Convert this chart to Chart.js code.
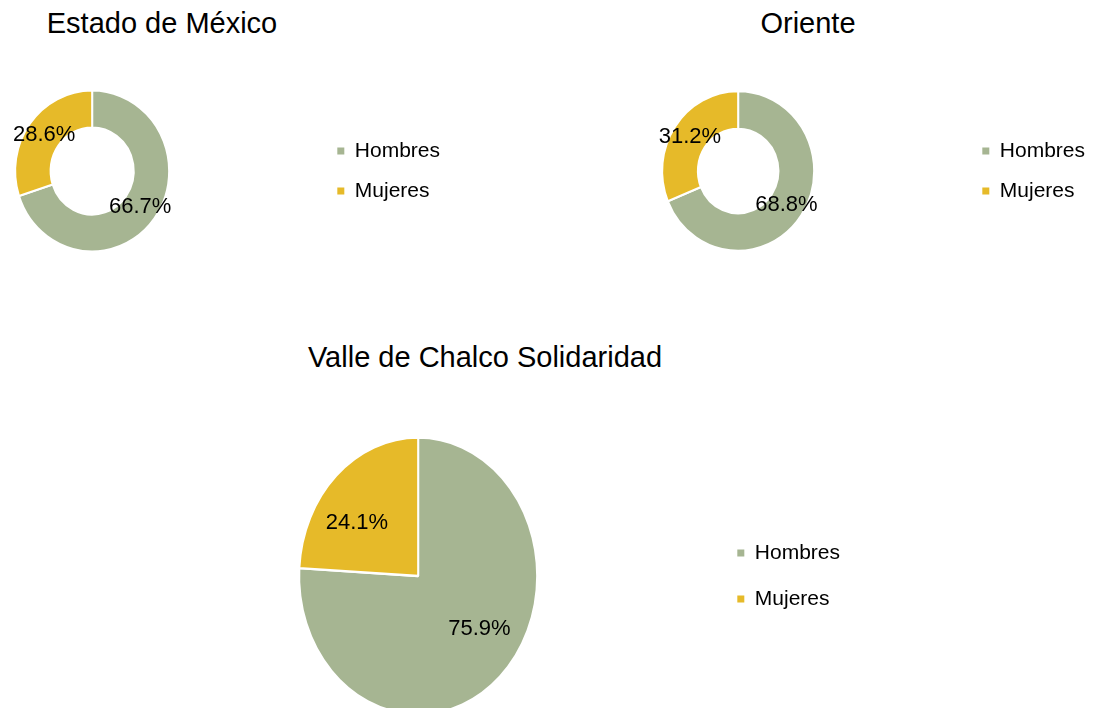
<!DOCTYPE html>
<html lang="es">
<head>
<meta charset="utf-8">
<title>Población por sexo</title>
<script src="https://cdn.jsdelivr.net/npm/chart.js@4.4.1/dist/chart.umd.min.js"></script>
<style>
  html, body { margin: 0; padding: 0; background: #fff; overflow: hidden; }
  body { width: 1095px; height: 708px; position: relative; font-family: "Liberation Sans", Arial, sans-serif; }
  .titulo { position: absolute; width: 500px; text-align: center; font-size: 29px; line-height: 29px; color: #000; white-space: nowrap; }
  canvas { position: absolute; }
</style>
</head>
<body>
<canvas id="g1" width="584" height="186" style="left:-134px; top:78px"></canvas>
<canvas id="g2" width="582" height="186" style="left:513px; top:78px"></canvas>
<canvas id="g3" width="726" height="320" style="left:124px; top:416px"></canvas>
<script>
// Datos
const categorias = ['Hombres', 'Mujeres'];
const titulos = ['Estado de México', 'Oriente', 'Valle de Chalco Solidaridad'];
const estadoMexico = [66.7, 28.6];
const oriente = [68.8, 31.2];
const valleChalco = [75.9, 24.1];
const colores = ['#A6B592', '#E6BA29'];

// Títulos (texto HTML)
const posTitulos = [[-88, 9], [558, 9], [235, 343]];
titulos.forEach((t, i) => {
    const div = document.createElement('div');
    div.className = 'titulo';
    div.textContent = t;
    div.style.left = posTitulos[i][0] + 'px';
    div.style.top = posTitulos[i][1] + 'px';
    document.body.appendChild(div);
});

Chart.defaults.font.family = '"Liberation Sans", Arial, sans-serif';
Chart.defaults.color = '#000';

// estira el pastel en vertical y pone las etiquetas de porcentaje
const elipse = {
    id: 'elipse',
    beforeDatasetsDraw(chart, args, opts) {
        const arc = chart.getDatasetMeta(0).data[0];
        const ctx = chart.ctx;
        ctx.save();
        ctx.translate(arc.x, arc.y);
        ctx.scale(1, opts.sy);
        ctx.translate(-arc.x, -arc.y);
    },
    afterDatasetsDraw(chart, args, opts) {
        const ctx = chart.ctx;
        ctx.restore();
        const valores = chart.data.datasets[0].data;
        ctx.save();
        ctx.font = '22px "Liberation Sans", Arial, sans-serif';
        ctx.fillStyle = '#000';
        ctx.textAlign = 'center';
        ctx.textBaseline = 'middle';
        chart.getDatasetMeta(0).data.forEach((arc, i) => {
            const medio = (arc.startAngle + arc.endAngle) / 2;
            const r = arc.innerRadius > 0 ? (arc.innerRadius + arc.outerRadius) / 2 : arc.outerRadius;
            ctx.fillText(valores[i].toFixed(1) + '%',
                arc.x + Math.cos(medio) * r * opts.fx,
                arc.y + Math.sin(medio) * r * opts.fy);
        });
        ctx.restore();
    }
};

function crearGrafico(id, tipo, valores, radio, corte, sy, fx, fy, padLeyenda, padArriba) {
    const ctx = document.getElementById(id).getContext('2d');
    return new Chart(ctx, {
        type: tipo,
        data: {
            labels: categorias,
            datasets: [{
                data: valores,
                backgroundColor: colores,
                borderColor: '#fff',
                borderWidth: 2
            }]
        },
        options: {
            responsive: false,
            animation: false,
            radius: radio,
            cutout: corte,
            layout: { padding: { top: padArriba } },
            plugins: {
                tooltip: { enabled: false },
                title: { display: false },
                elipse: { sy: sy, fx: fx, fy: fy },
                legend: {
                    position: 'right',
                    align: 'center',
                    labels: {
                        boxWidth: 7,
                        boxHeight: 7,
                        padding: padLeyenda,
                        color: '#000',
                        font: { size: 21 },
                        generateLabels(chart) {
                            const items = Chart.overrides.doughnut.plugins.legend.labels.generateLabels(chart);
                            items.forEach(it => { it.lineWidth = 0; it.strokeStyle = it.fillStyle; });
                            return items;
                        }
                    }
                }
            }
        },
        plugins: [elipse]
    });
}

crearGrafico('g1', 'doughnut', estadoMexico, 77, '54%', 1.045, 1, 1.045, 19, 0);
crearGrafico('g2', 'doughnut', oriente, 76, '53%', 1.05, 1, 1.05, 19, 0);
crearGrafico('g3', 'pie', valleChalco, 119, 0, 1.163, 0.75, 0.61, 25, 0);
</script>
</body>
</html>
